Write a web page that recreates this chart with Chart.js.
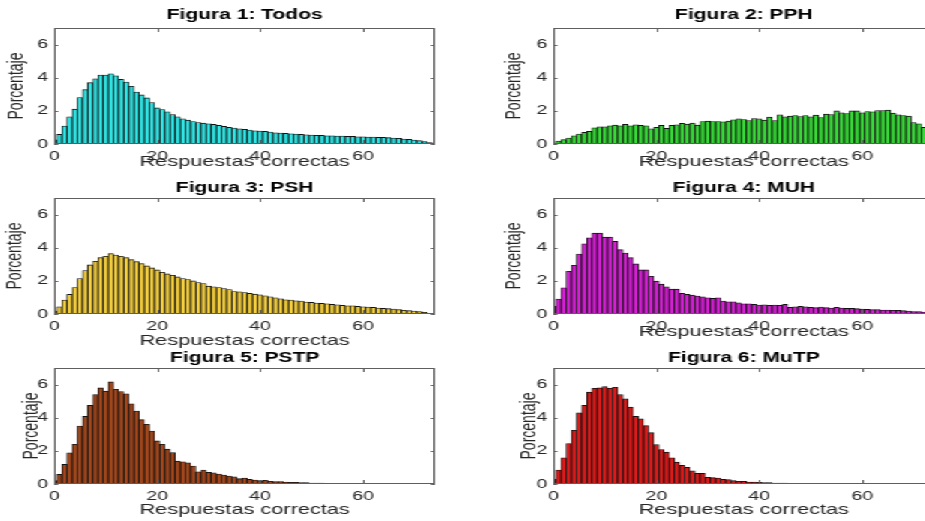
<!DOCTYPE html>
<html>
<head>
<meta charset="utf-8">
<script src="https://cdn.jsdelivr.net/npm/chart.js@4.4.0/dist/chart.umd.min.js"></script>
<style>
  html, body { margin: 0; padding: 0; background: #fff; overflow: hidden; width: 925px; height: 521px; }
  /* the original figure is stretched sideways, so the whole sheet is scaled */
  #figura { position: absolute; left: 0; top: 0; width: 617px; height: 521px; transform: scaleX(1.5); transform-origin: 0 0; }
  #figura canvas { position: absolute; }
</style>
</head>
<body>
<div id="figura"></div>
<script>
var respuestas = [0,1,2,3,4,5,6,7,8,9,10,11,12,13,14,15,16,17,18,19,20,21,22,23,24,25,26,27,28,29,30,31,32,33,34,35,36,
  37,38,39,40,41,42,43,44,45,46,47,48,49,50,51,52,53,54,55,56,57,58,59,60,61,62,63,64,65,66,67,68,69,70,71,72,73];

var todos = [0.25,0.58,1.08,1.64,2.1,2.8,3.28,3.7,3.94,4.16,
  4.16,4.24,4.12,3.9,3.74,3.48,3.14,2.96,2.78,2.5,
  2.18,2.08,1.94,1.78,1.64,1.52,1.44,1.36,1.3,1.26,
  1.22,1.18,1.12,1.06,1.0,0.96,0.92,0.88,0.84,0.8,
  0.78,0.76,0.72,0.68,0.66,0.64,0.62,0.6,0.58,0.56,
  0.54,0.52,0.52,0.5,0.5,0.48,0.48,0.46,0.46,0.44,
  0.44,0.42,0.42,0.4,0.4,0.38,0.36,0.34,0.3,0.28,
  0.24,0.2,0.14,0.08];
var pph = [0.06,0.18,0.26,0.36,0.5,0.6,0.7,0.76,0.98,1.04,
  1.04,1.1,1.14,1.1,1.18,1.1,1.16,1.12,1.1,0.92,
  1.0,1.12,0.94,1.12,1.16,1.24,1.2,1.26,1.14,1.36,
  1.38,1.36,1.36,1.34,1.38,1.46,1.52,1.48,1.42,1.54,
  1.52,1.44,1.62,1.42,1.76,1.64,1.68,1.72,1.66,1.72,
  1.64,1.74,1.6,1.8,1.78,2.0,1.88,1.84,2.0,2.0,
  1.88,1.96,1.94,2.02,2.02,2.04,1.86,1.76,1.72,1.68,
  1.3,1.22,1.0,0.9];
var psh = [0.18,0.44,0.84,1.18,1.6,2.14,2.62,2.96,3.18,3.4,
  3.48,3.64,3.56,3.48,3.4,3.28,3.16,3.04,2.9,2.78,
  2.66,2.52,2.42,2.34,2.24,2.14,2.08,2.0,1.9,1.84,
  1.68,1.64,1.6,1.54,1.48,1.36,1.34,1.3,1.24,1.2,
  1.16,1.1,1.04,0.98,0.92,0.86,0.84,0.8,0.78,0.72,
  0.7,0.66,0.64,0.62,0.58,0.56,0.52,0.5,0.5,0.46,
  0.44,0.42,0.4,0.36,0.34,0.32,0.3,0.26,0.22,0.2,
  0.18,0.14,0.1,0.04];
var muh = [0.48,0.9,1.58,2.58,2.94,3.62,4.24,4.6,4.88,4.88,
  4.64,4.64,4.38,3.88,3.68,3.4,3.02,2.66,2.66,2.28,
  1.98,1.8,1.64,1.5,1.5,1.24,1.18,1.14,1.08,1.04,
  0.98,0.94,0.98,0.78,0.74,0.74,0.68,0.62,0.62,0.58,
  0.54,0.56,0.52,0.54,0.52,0.58,0.4,0.44,0.46,0.44,
  0.4,0.38,0.42,0.38,0.36,0.4,0.36,0.34,0.34,0.32,
  0.3,0.28,0.26,0.26,0.24,0.24,0.22,0.22,0.2,0.18,
  0.14,0.14,0.12,0.1];
var pstp = [0.2,0.58,1.18,1.88,2.4,3.5,4.08,4.74,5.4,5.8,
  5.6,6.16,5.72,5.58,5.44,4.84,4.4,3.88,3.6,3.2,
  2.6,2.4,2.1,1.9,1.38,1.34,1.28,1.08,0.74,0.84,
  0.7,0.68,0.6,0.54,0.48,0.44,0.32,0.36,0.28,0.24,
  0.2,0.22,0.16,0.14,0.14,0.12,0.1,0.1,0.08,0.08,
  0.06,0.06,0.05,0.04,0.04,0.04,0.03,0.03,0.02,0.02,
  0.02,0.01,0.02,0.01,0.01,0.01,0.01,0.02,0.01,0,
  0,0,0,0];
var mutp = [0.3,0.84,1.58,2.44,3.24,4.3,4.74,5.54,5.78,5.8,
  5.88,5.78,5.84,5.4,5.14,4.64,4.08,3.94,3.52,3.1,
  2.38,2.08,1.92,1.58,1.32,1.12,1.0,0.8,0.64,0.64,
  0.4,0.38,0.36,0.28,0.26,0.2,0.16,0.16,0.12,0.12,
  0.1,0.08,0.08,0.06,0.05,0.05,0.04,0.03,0.03,0.02,
  0.02,0.02,0.01,0.01,0.02,0.01,0.01,0,0.01,0,
  0.01,0,0,0,0,0,0,0,0,0,
  0,0,0,0];

var titulos = ["Figura 1: Todos", "Figura 2: PPH", "Figura 3: PSH", "Figura 4: MUH", "Figura 5: PSTP", "Figura 6: MuTP"];
var ticksX = [0, 20, 40, 60];
var ticksY = [0, 2, 4, 6];
var etiquetaX = "Respuestas correctas";
var etiquetaY = "Porcentaje";

var fuente = '"Liberation Sans", Arial, Helvetica, sans-serif';

// where each subplot sits (unscaled coords) and its colour
var paneles = [
  { serie: todos, color: "#2ee6e6", x: 0,   y: 0,   h: 185, titDy: 13, xDy: 18, yDx: 25 },
  { serie: pph,   color: "#36d936", x: 333, y: 0,   h: 185, titDy: 13, xDy: 18, yDx: 26 },
  { serie: psh,   color: "#f5cf3c", x: 0,   y: 170, h: 185, titDy: 10, xDy: 27, yDx: 25.5 },
  { serie: muh,   color: "#d41fd4", x: 333, y: 170, h: 185, titDy: 10, xDy: 18, yDx: 26 },
  { serie: pstp,  color: "#a4461a", x: 0,   y: 340, h: 181, titDy: 10, xDy: 26, yDx: 15 },
  { serie: mutp,  color: "#dd1a1a", x: 333, y: 340, h: 181, titDy: 10, xDy: 26, yDx: 16 }
];

// matlab style box, inner ticks, title and axis labels
var marco = {
  id: "marco",
  afterDraw: function (chart) {
    var ctx = chart.ctx, a = chart.chartArea, o = chart.options.plugins.marco;
    var sx = chart.scales.x, sy = chart.scales.y;
    ctx.save();
    ctx.strokeStyle = "#5e5e5e";
    ctx.lineWidth = 1;
    ctx.strokeRect(a.left + 0.5, a.top + 0.5, a.right - a.left - 1, a.bottom - a.top - 1);
    ctx.beginPath();
    sx.ticks.forEach(function (t) {
      var px = Math.round(sx.getPixelForValue(t.value)) + 0.5;
      ctx.moveTo(px, a.bottom); ctx.lineTo(px, a.bottom - 4);
      ctx.moveTo(px, a.top); ctx.lineTo(px, a.top + 4);
    });
    sy.ticks.forEach(function (t) {
      var py = Math.round(sy.getPixelForValue(t.value)) + 0.5;
      ctx.moveTo(a.left, py); ctx.lineTo(a.left + 2.7, py);
      ctx.moveTo(a.right, py); ctx.lineTo(a.right - 2.7, py);
    });
    ctx.stroke();

    var cx = (a.left + a.right) / 2;
    ctx.textAlign = "center";
    ctx.textBaseline = "middle";
    ctx.fillStyle = "#000";
    ctx.font = "bold 14px " + fuente;
    ctx.fillText(o.titulo, cx, a.top - o.titDy);

    ctx.fillStyle = "#262626";
    ctx.font = "14.5px " + fuente;
    ctx.fillText(etiquetaX, cx, a.bottom + o.xDy);

    ctx.font = "14px " + fuente;
    ctx.translate(a.left - o.yDx, (a.top + a.bottom) / 2);
    ctx.rotate(-Math.PI / 2);
    ctx.fillText(etiquetaY, 0, 0);
    ctx.restore();
  }
};

var hoja = document.getElementById("figura");

paneles.forEach(function (p, i) {
  var cv = document.createElement("canvas");
  cv.width = 300;
  cv.height = p.h;
  cv.style.left = p.x + "px";
  cv.style.top = p.y + "px";
  cv.style.width = "300px";
  cv.style.height = p.h + "px";
  hoja.appendChild(cv);

  var puntos = respuestas.map(function (r, k) { return { x: r, y: p.serie[k] }; });
  var altoX = p.h - 144;

  new Chart(cv.getContext("2d"), {
    type: "bar",
    data: {
      datasets: [{
        data: puntos,
        backgroundColor: p.color,
        borderColor: "#111",
        borderWidth: 0.85,
        barPercentage: 1,
        categoryPercentage: 1,
        clip: 0
      }]
    },
    options: {
      responsive: false,
      animation: false,
      devicePixelRatio: 1,
      layout: { padding: { left: 0, right: 10, top: 28, bottom: 0 } },
      plugins: {
        legend: { display: false },
        tooltip: { enabled: false },
        marco: { titulo: titulos[i], titDy: p.titDy, xDy: p.xDy, yDx: p.yDx }
      },
      scales: {
        x: {
          type: "linear",
          min: 0,
          max: 74,
          offset: false,
          grid: { display: false, drawTicks: false },
          border: { display: false },
          afterBuildTicks: function (s) { s.ticks = ticksX.map(function (v) { return { value: v }; }); },
          afterFit: function (s) { s.height = altoX; },
          ticks: { padding: 5, maxRotation: 0, autoSkip: false, color: "#262626", font: { family: fuente, size: 13 } }
        },
        y: {
          min: 0,
          max: 7,
          grid: { display: false, drawTicks: false },
          border: { display: false },
          afterBuildTicks: function (s) { s.ticks = ticksY.map(function (v) { return { value: v }; }); },
          afterFit: function (s) { s.width = 36; },
          ticks: { padding: 4, color: "#262626", font: { family: fuente, size: 13 } }
        }
      }
    },
    plugins: [marco]
  });
});
</script>
</body>
</html>
